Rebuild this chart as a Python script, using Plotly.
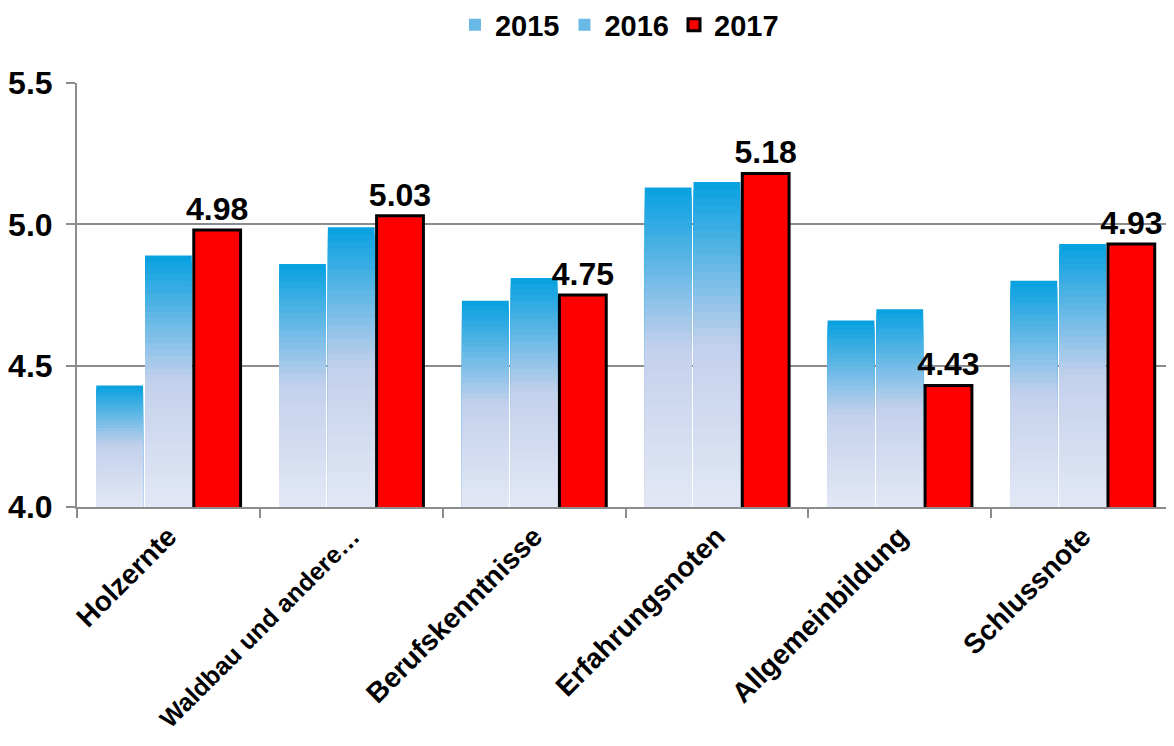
import plotly.graph_objects as go

categories = ["Holzernte", "Waldbau und andere…", "Berufskenntnisse",
              "Erfahrungsnoten", "Allgemeinbildung", "Schlussnote"]
years = ["2015", "2016", "2017"]
v2015 = [4.43, 4.86, 4.73, 5.13, 4.66, 4.80]
v2016 = [4.89, 4.99, 4.81, 5.15, 4.70, 4.93]
v2017 = [4.98, 5.03, 4.75, 5.18, 4.43, 4.93]
y_min, y_max = 4.0, 5.5
y_ticks = [4.0, 4.5, 5.0, 5.5]

FONT = "Liberation Sans, Arial, sans-serif"

# gradient stops (fraction from top of bar -> rgb)
stops = [(0.0, (5, 160, 224)), (0.5, (195, 208, 236)), (1.0, (227, 232, 245))]


def grad_color(t):
    for (t0, c0), (t1, c1) in zip(stops[:-1], stops[1:]):
        if t <= t1:
            f = (t - t0) / (t1 - t0)
            c = [round(a + (b - a) * f) for a, b in zip(c0, c1)]
            return f"rgb({c[0]},{c[1]},{c[2]})"
    c = stops[-1][1]
    return f"rgb({c[0]},{c[1]},{c[2]})"


fig = go.Figure()
N = 40
for name, vals, rank in [("2015", v2015, 1), ("2016", v2016, 2)]:
    for k in range(N):
        frac = (N - k) / N
        heights = [(v - y_min) * frac for v in vals]
        t = (k + 0.5) / N
        show = (k == N // 4)
        fig.add_trace(go.Bar(
            x=categories, y=heights, base=[y_min] * len(vals),
            offsetgroup=name, name=name, legendgroup=name,
            showlegend=show, legendrank=rank,
            marker=dict(color=grad_color(t), line=dict(width=0)),
            hoverinfo="skip",
        ))

fig.add_trace(go.Bar(
    x=categories, y=v2017, offsetgroup="2017", name="2017", legendgroup="2017",
    legendrank=3,
    marker=dict(color="#FF0000", line=dict(color="#000000", width=3)),
    text=[f"{v:.2f}" for v in v2017], textposition="outside",
    textfont=dict(family=FONT, size=32, color="#000000", weight="bold"),
    constraintext="none", cliponaxis=False,
))

# long label is drawn slightly smaller so it stays inside the page
tick_text = [f"<span style='font-size:25px;font-weight:bold'>{c}</span>" if len(c) > 17 else c
             for c in categories]

fig.update_layout(
    width=1166, height=738,
    margin=dict(l=69, r=0, t=75, b=239),
    paper_bgcolor="white", plot_bgcolor="white",
    barmode="group", bargap=0.2, bargroupgap=0.04,
    font=dict(family=FONT, size=26, color="#000000"),
    legend=dict(orientation="h", x=0.4945, xanchor="center",
                yref="container", y=0.977, yanchor="middle",
                font=dict(family=FONT, size=29, color="#000000", weight="bold"),
                itemwidth=30, traceorder="normal"),
    showlegend=True,
)
fig.update_yaxes(range=[y_min, y_max], tickvals=y_ticks,
                 ticktext=[f"{t:.1f}" for t in y_ticks],
                 showgrid=True, gridcolor="#8C8C8C", gridwidth=1.5,
                 showline=True, linecolor="#8C8C8C", linewidth=2,
                 ticks="outside", ticklen=9, tickcolor="#8C8C8C", tickwidth=1.5,
                 ticklabelstandoff=7, automargin=False,
                 tickfont=dict(family=FONT, size=32, weight="bold"),
                 zeroline=False)
fig.update_xaxes(showline=True, linecolor="#8C8C8C", linewidth=2,
                 ticks="outside", tickson="boundaries", ticklen=9,
                 tickcolor="#8C8C8C", tickwidth=1.5, tickangle=-45,
                 tickmode="array", tickvals=categories, ticktext=tick_text,
                 automargin=False,
                 tickfont=dict(family=FONT, size=28, weight="bold"))

fig.write_html("out.html")
